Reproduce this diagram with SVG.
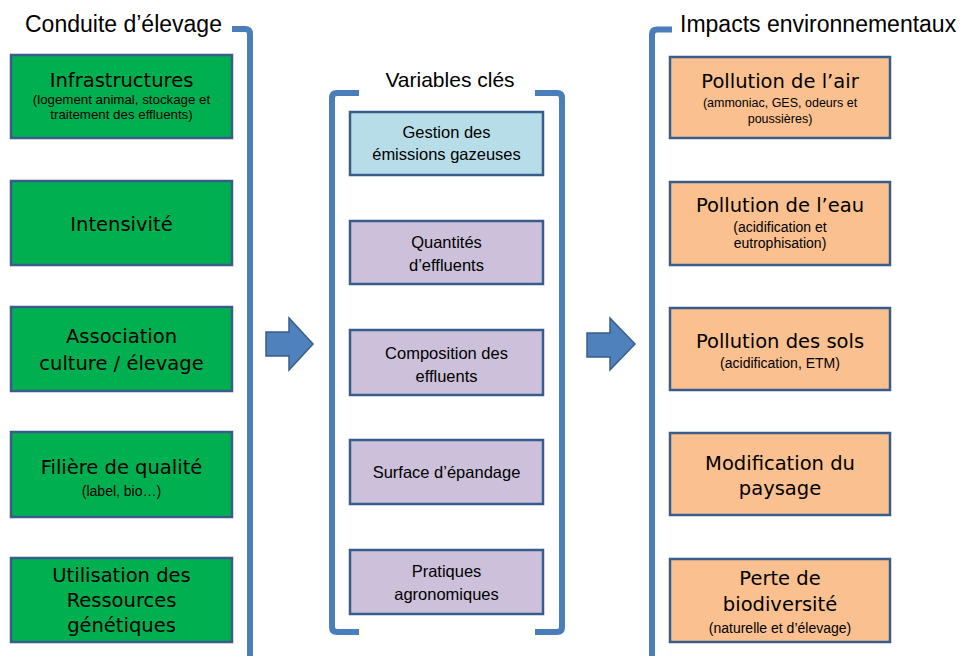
<svg xmlns="http://www.w3.org/2000/svg" width="964" height="656" viewBox="0 0 964 656">
<style>
.br{fill:none;stroke:#4a7ebb;stroke-width:6;stroke-linejoin:round}
.box{stroke:#385d8a;stroke-width:2.5}
.g{fill:#00b050}
.b{fill:#b7dee8}
.p{fill:#ccc0da}
.o{fill:#fac090}
.hd{font-family:"Liberation Sans",Arial,sans-serif;font-size:23px;fill:#000}
.t1{font-family:"DejaVu Sans",Verdana,sans-serif;font-size:19.5px;fill:#000;text-anchor:middle}
.t2{font-family:"Liberation Sans",Arial,sans-serif;font-size:16.5px;fill:#000;text-anchor:middle}
.s{font-family:"Liberation Sans",Arial,sans-serif;font-size:13.3px;fill:#000;text-anchor:middle}
.s2{font-family:"Liberation Sans",Arial,sans-serif;font-size:14px;fill:#000;text-anchor:middle}
.ar{fill:#4f81bd;stroke:#385d8a;stroke-width:1.5}
</style>
<rect width="964" height="656" fill="#fff"/>
<g id="headers">
<text class="hd" x="25" y="32">Conduite d’élevage</text>
<text class="hd" x="450" y="87" text-anchor="middle" style="font-size:21px">Variables clés</text>
<text class="hd" x="680" y="32">Impacts environnementaux</text>
</g>
<g id="connectors">
<path class="br" d="M232 29 H245 Q250 29 250 34 V664"/>
<path class="br" d="M359 93 H337 Q332 93 332 98 V627 Q332 632 337 632 H359"/>
<path class="br" d="M535 93 H557 Q562 93 562 98 V627 Q562 632 557 632 H535"/>
<path class="br" d="M672 29.5 H657 Q652 29.5 652 34.5 V664"/>
<path class="ar" d="M266 332 H289 V318 L313 344 L289 370 V356 H266 Z"/>
<path class="ar" d="M587 333 H610 V318 L635 344 L610 370 V357 H587 Z"/>
</g>
<g id="n-infra"><rect class="box g" x="11" y="55" width="221" height="83"/>
<text class="t1" x="121.5" y="87">Infrastructures</text>
<text class="s" x="121.5" y="104">(logement animal, stockage et</text>
<text class="s" x="121.5" y="119">traitement des effluents)</text></g>
<g id="n-intens"><rect class="box g" x="11" y="181" width="221" height="84"/>
<text class="t1" x="121.5" y="231">Intensivité</text></g>
<g id="n-assoc"><rect class="box g" x="11" y="307" width="221" height="84"/>
<text class="t1" x="121.5" y="343">Association</text>
<text class="t1" x="121.5" y="370">culture / élevage</text></g>
<g id="n-filiere"><rect class="box g" x="11" y="432" width="221" height="85"/>
<text class="t1" x="121.5" y="474">Filière de qualité</text>
<text class="s2" x="121.5" y="496">(label, bio…)</text></g>
<g id="n-util"><rect class="box g" x="11" y="558" width="221" height="84"/>
<text class="t1" x="121.5" y="582">Utilisation des</text>
<text class="t1" x="121.5" y="607">Ressources</text>
<text class="t1" x="121.5" y="632">génétiques</text></g>

<g id="m-gestion"><rect class="box b" x="350" y="112" width="193" height="63"/>
<text class="t2" x="446.5" y="138">Gestion des</text>
<text class="t2" x="446.5" y="160">émissions gazeuses</text></g>
<g id="m-quant"><rect class="box p" x="350" y="221" width="193" height="63"/>
<text class="t2" x="446.5" y="248">Quantités</text>
<text class="t2" x="446.5" y="271">d’effluents</text></g>
<g id="m-compo"><rect class="box p" x="350" y="330" width="193" height="65"/>
<text class="t2" x="446.5" y="359">Composition des</text>
<text class="t2" x="446.5" y="382">effluents</text></g>
<g id="m-surf"><rect class="box p" x="350" y="440" width="193" height="64"/>
<text class="t2" x="446.5" y="478">Surface d’épandage</text></g>
<g id="m-prat"><rect class="box p" x="350" y="550" width="193" height="64"/>
<text class="t2" x="446.5" y="577">Pratiques</text>
<text class="t2" x="446.5" y="600">agronomiques</text></g>

<g id="r-air"><rect class="box o" x="670" y="57" width="220" height="81"/>
<text class="t1" x="780" y="88">Pollution de l’air</text>
<text class="s" x="780" y="107" style="font-size:12.5px">(ammoniac, GES, odeurs et</text>
<text class="s" x="780" y="123" style="font-size:12.5px">poussières)</text></g>
<g id="r-eau"><rect class="box o" x="670" y="182" width="220" height="83"/>
<text class="t1" x="780" y="212">Pollution de l’eau</text>
<text class="s2" x="780" y="232">(acidification et</text>
<text class="s2" x="780" y="248">eutrophisation)</text></g>
<g id="r-sols"><rect class="box o" x="670" y="308" width="220" height="82"/>
<text class="t1" x="780" y="348">Pollution des sols</text>
<text class="s2" x="780" y="368">(acidification, ETM)</text></g>
<g id="r-pays"><rect class="box o" x="670" y="433" width="220" height="82"/>
<text class="t1" x="780" y="470">Modification du</text>
<text class="t1" x="780" y="495">paysage</text></g>
<g id="r-bio"><rect class="box o" x="670" y="559" width="220" height="83"/>
<text class="t1" x="780" y="585">Perte de</text>
<text class="t1" x="780" y="611">biodiversité</text>
<text class="s2" x="780" y="633">(naturelle et d’élevage)</text></g>
</svg>
